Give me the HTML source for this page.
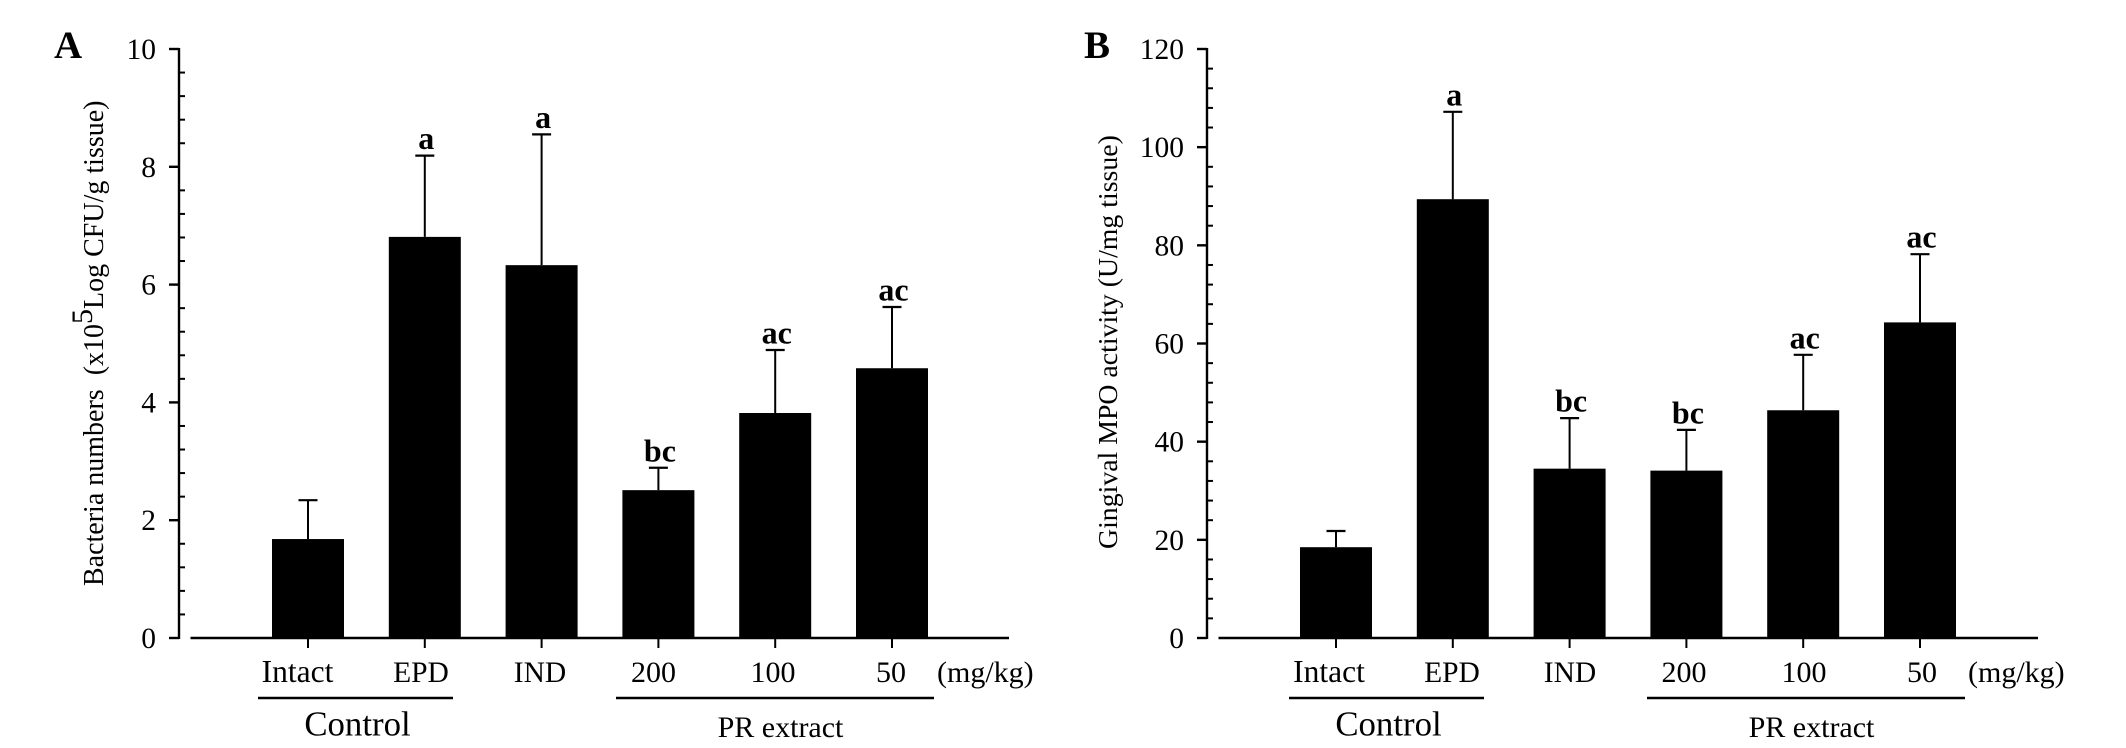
<!DOCTYPE html>
<html lang="en">
<head>
<meta charset="utf-8">
<title>Bacteria numbers and gingival MPO activity</title>
<style>
html,body{margin:0;padding:0;background:#fff;}
svg{display:block;}
text{font-family:"Liberation Serif","Times New Roman",serif;fill:#000;}
</style>
</head>
<body>
<svg id="figure" width="2126" height="748" viewBox="0 0 2126 748" xmlns="http://www.w3.org/2000/svg">
  <rect x="0" y="0" width="2126" height="748" fill="#fff"/>

  <g id="panel-a">
    <text x="54" y="58" font-size="39" font-weight="bold">A</text>
    <text transform="translate(103,586) rotate(-90)" font-size="28" xml:space="preserve">Bacteria numbers  (x10<tspan font-size="30" dy="-11">5</tspan><tspan dy="11">Log CFU/g tissue)</tspan></text>
    <text x="297.5" y="682" font-size="31.5" text-anchor="middle">Intact</text>
    <text x="421" y="682" font-size="29.5" text-anchor="middle">EPD</text>
    <text x="540" y="682" font-size="29.5" text-anchor="middle">IND</text>
    <text x="653.5" y="682" font-size="30" text-anchor="middle">200</text>
    <text x="773" y="682" font-size="30" text-anchor="middle">100</text>
    <text x="891" y="682" font-size="30" text-anchor="middle">50</text>
    <text x="937" y="682" font-size="30">(mg/kg)</text>
    <line x1="258" y1="698" x2="453" y2="698" stroke="#000" stroke-width="2.4"/>
    <line x1="616" y1="698" x2="934" y2="698" stroke="#000" stroke-width="2.4"/>
    <text x="357.5" y="735.5" font-size="34.8" text-anchor="middle">Control</text>
    <text x="780.5" y="737" font-size="30" text-anchor="middle">PR extract</text>
  </g>

  <g id="panel-b">
    <text x="1084" y="58" font-size="39" font-weight="bold">B</text>
    <text transform="translate(1117,549) rotate(-90)" font-size="27.8">Gingival MPO activity (U/mg tissue)</text>
    <text x="1329" y="682" font-size="31.5" text-anchor="middle">Intact</text>
    <text x="1452" y="682" font-size="29.5" text-anchor="middle">EPD</text>
    <text x="1570" y="682" font-size="29.5" text-anchor="middle">IND</text>
    <text x="1684" y="682" font-size="30" text-anchor="middle">200</text>
    <text x="1804" y="682" font-size="30" text-anchor="middle">100</text>
    <text x="1922" y="682" font-size="30" text-anchor="middle">50</text>
    <text x="1968" y="682" font-size="30">(mg/kg)</text>
    <line x1="1289" y1="698" x2="1484" y2="698" stroke="#000" stroke-width="2.4"/>
    <line x1="1647" y1="698" x2="1965" y2="698" stroke="#000" stroke-width="2.4"/>
    <text x="1388.5" y="735.5" font-size="34.8" text-anchor="middle">Control</text>
    <text x="1811.5" y="737" font-size="30" text-anchor="middle">PR extract</text>
  </g>
</svg>

<script>
const categories = ['Intact', 'EPD', 'IND', '200', '100', '50'];

const aMeans = [1.68, 6.81, 6.33, 2.51, 3.82, 4.58];
const aErrorTops = [2.34, 8.19, 8.55, 2.89, 4.89, 5.62];
const aLetters = ['', 'a', 'a', 'bc', 'ac', 'ac'];
const aTicks = [0, 2, 4, 6, 8, 10];

const bMeans = [18.5, 89.4, 34.5, 34.1, 46.4, 64.3];
const bErrorTops = [21.8, 107.2, 44.8, 42.4, 57.7, 78.2];
const bLetters = ['', 'a', 'bc', 'bc', 'ac', 'ac'];
const bTicks = [0, 20, 40, 60, 80, 100, 120];

const SVG_NS = 'http://www.w3.org/2000/svg';
const Y_TOP = 49;
const Y_BOTTOM = 638;
const MINOR_PER_MAJOR = 5;
const BAR_WIDTH = 72;
const BAR_STEP = 116.8;

function make(tag, attrs, parent) {
  const el = document.createElementNS(SVG_NS, tag);
  Object.keys(attrs).forEach(function (k) { el.setAttribute(k, attrs[k]); });
  parent.appendChild(el);
  return el;
}

function drawPanel(parent, prefix, means, errorTops, letters, ticks, axisX, firstCenter, baseStart, baseEnd) {
  const maxVal = ticks[ticks.length - 1];
  const yScale = function (v) { return Y_BOTTOM - (v / maxVal) * (Y_BOTTOM - Y_TOP); };
  const xScale = function (i) { return firstCenter + i * BAR_STEP; };

  const axis = make('line', {x1: axisX, y1: Y_TOP - 1, x2: axisX, y2: Y_BOTTOM + 1, stroke: '#000', 'stroke-width': 2.4}, parent);
  
  

  ticks.forEach(function (t, idx) {
    const y = yScale(t);
    const tick = make('line', {x1: axisX - 10, y1: y, x2: axisX, y2: y, stroke: '#000', 'stroke-width': 2.4}, parent);
    
    

    const label = make('text', {x: axisX - 23, y: y + 10, 'font-size': 29.5, 'text-anchor': 'end'}, parent);
    label.textContent = String(t);
    
    

    if (idx < ticks.length - 1) {
      const gap = ticks[idx + 1] - t;
      for (let m = 1; m < MINOR_PER_MAJOR; m++) {
        const my = yScale(t + gap * m / MINOR_PER_MAJOR);
        const minor = make('line', {x1: axisX, y1: my, x2: axisX + 6, y2: my, stroke: '#000', 'stroke-width': 2}, parent);
        
        
      }
    }
  });

  const baseline = make('line', {x1: baseStart, y1: Y_BOTTOM, x2: baseEnd, y2: Y_BOTTOM, stroke: '#000', 'stroke-width': 2.4}, parent);
  
  

  categories.forEach(function (cat, i) {
    const cx = xScale(i);
    const key = cat.toLowerCase();

    const xt = make('line', {x1: cx, y1: Y_BOTTOM, x2: cx, y2: Y_BOTTOM + 10, stroke: '#000', 'stroke-width': 2}, parent);
    
    

    const topY = yScale(errorTops[i]);
    const stem = make('line', {x1: cx, y1: topY, x2: cx, y2: yScale(means[i]), stroke: '#000', 'stroke-width': 2}, parent);
    
    

    const cap = make('line', {x1: cx - 9.5, y1: topY, x2: cx + 9.5, y2: topY, stroke: '#000', 'stroke-width': 2.2}, parent);
    
    

    const barTop = yScale(means[i]);
    const bar = make('rect', {x: cx - BAR_WIDTH / 2, y: barTop, width: BAR_WIDTH, height: Y_BOTTOM - barTop, fill: '#000'}, parent);
    
    

    if (letters[i]) {
      const sig = make('text', {x: cx + 1.5, y: topY - 6.5, 'font-size': 32, 'font-weight': 'bold', 'text-anchor': 'middle'}, parent);
      sig.textContent = letters[i];
      
      
    }
  });
}

drawPanel(document.getElementById('panel-a'), 'panel-a', aMeans, aErrorTops, aLetters, aTicks, 179, 308, 190.5, 1009);
drawPanel(document.getElementById('panel-b'), 'panel-b', bMeans, bErrorTops, bLetters, bTicks, 1207, 1336, 1218.5, 2038);
</script>
</body>
</html>
